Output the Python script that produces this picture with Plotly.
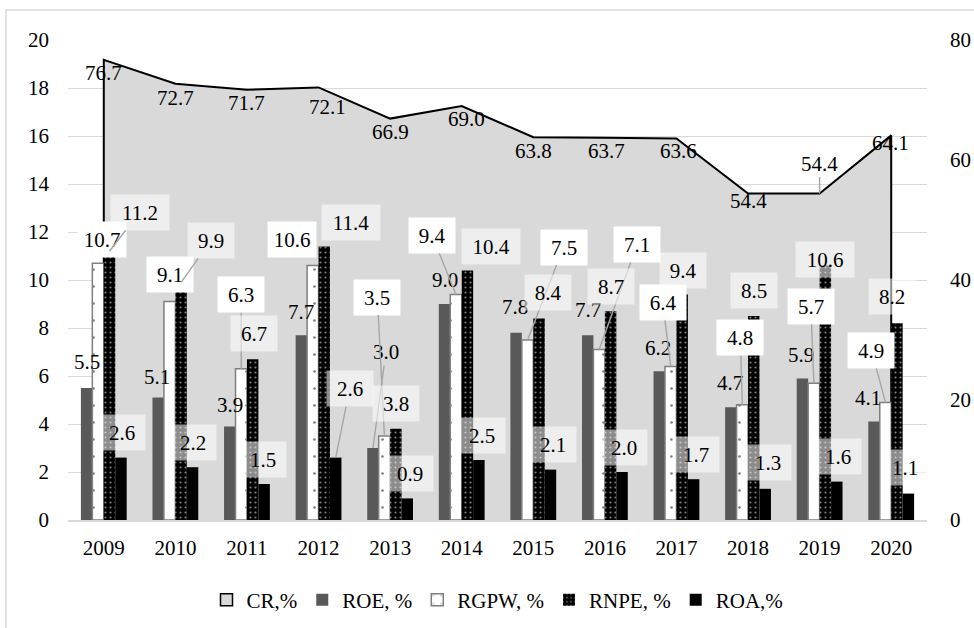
import plotly.graph_objects as go

# ---------------- data ----------------
years = ['2009', '2010', '2011', '2012', '2013', '2014', '2015', '2016', '2017', '2018', '2019', '2020']
cr = [76.7, 72.7, 71.7, 72.1, 66.9, 69.0, 63.8, 63.7, 63.6, 54.4, 54.4, 64.1]
roe = [5.5, 5.1, 3.9, 7.7, 3.0, 9.0, 7.8, 7.7, 6.2, 4.7, 5.9, 4.1]
rgpw = [10.7, 9.1, 6.3, 10.6, 3.5, 9.4, 7.5, 7.1, 6.4, 4.8, 5.7, 4.9]
rnpe = [11.2, 9.9, 6.7, 11.4, 3.8, 10.4, 8.4, 8.7, 9.4, 8.5, 10.6, 8.2]
roa = [2.6, 2.2, 1.5, 2.6, 0.9, 2.5, 2.1, 2.0, 1.7, 1.3, 1.6, 1.1]

left_ticks = [0, 2, 4, 6, 8, 10, 12, 14, 16, 18, 20]
right_ticks = [0, 20, 40, 60, 80]

# ---------------- label placement (pixel offsets from each point) ----------------
cr_dx = [0, 0, 0, 9, 0, 5, 0, 2, 2, 0, 0, -1]
cr_dy = [13, 14, 13, 20, 13, 13, 14, 13, 13, 7, -30, 8]
cr_lead = [0, 0, 0, 0, 0, 0, 0, 0, 0, 0, 1, 0]

roe_dx = [0, -1, 0, 0, 13, 0, -1, 0, -1, -1, -1, -6]
roe_dy = [-26, -21, -21, -23, -96, -24, -26, -25, -23, -24, -23, -24]
roe_lead = [0, 0, 0, 0, 1, 0, 0, 0, 0, 0, 0, 0]

rgpw_dx = [4, 0, 0, -21, -7, -24, 36, 38, -8, -2, -3, -14]
rgpw_dy = [-24, -27, -74, -26, -139, -59, -93, -105, -64, -67, -77, -52]
rgpw_lead = [0, 0, 1, 0, 1, 1, 1, 1, 1, 1, 1, 1]

rnpe_dx = [30, 30, 1, 27, 0, 24, 9, 0, 1, 0, 0, -5]
rnpe_dy = [-39, -42, -26, -24, -25, -24, -26, -25, -24, -26, -6, -27]
rnpe_lead = [1, 1, 0, 0, 0, 0, 0, 0, 0, 0, 0, 0]

roa_dx = [1, 0, -1, 14, 3, 3, 3, 2, 2, 3, 1, -3]
roa_dy = [-25, -25, -25, -69, -25, -25, -25, -25, -25, -26, -25, -26]
roa_lead = [0, 0, 0, 1, 0, 0, 0, 0, 0, 0, 0, 0]

# ---------------- styling ----------------
FONT = 'Liberation Serif, Times New Roman, serif'
FS = 21
GRID = '#d9d9d9'
LEADER = '#a6a6a6'
BARGAP = 0.36
NBARS = 4
bw = (1 - BARGAP) / NBARS
bar_off = [(-1.5 + k) * bw for k in range(NBARS)]

xs = list(range(len(years)))

fig = go.Figure()

# CR area on the right axis (main y, so it is drawn beneath the bars)
fig.add_trace(go.Scatter(
    x=[xs[0]] + xs + [xs[-1]],
    y=[0] + cr + [0],
    mode='lines', fill='tozeroy', fillcolor='#d9d9d9',
    line=dict(color='black', width=2),
    name='CR,%', yaxis='y', hoverinfo='skip', showlegend=False))
# legend swatch for the CR area
fig.add_trace(go.Scatter(
    x=[None], y=[None], mode='markers', name='CR,%', yaxis='y',
    marker=dict(symbol='square', size=12, color='#d9d9d9',
                line=dict(color='black', width=1.5))))

fig.add_trace(go.Bar(x=xs, y=roe, name='ROE, %', yaxis='y2',
                     marker=dict(color='#595959', line=dict(width=0))))
fig.add_trace(go.Bar(x=xs, y=rgpw, name='RGPW, %', yaxis='y2',
                     marker=dict(color='white', line=dict(color='#7f7f7f', width=1.5),
                                 pattern=dict(shape='.', fgcolor='black', bgcolor='white',
                                              size=17, solidity=0.02))))
fig.add_trace(go.Bar(x=xs, y=rnpe, name='RNPE, %', yaxis='y2',
                     marker=dict(color='black', line=dict(width=0),
                                 pattern=dict(shape='.', fgcolor='white', bgcolor='black',
                                              size=5, solidity=0.15))))
fig.add_trace(go.Bar(x=xs, y=roa, name='ROA,%', yaxis='y2',
                     marker=dict(color='black', line=dict(width=0))))

annotations = []


def add_labels(vals, xoff, yref, dxs, dys, leads, bg, widths):
    for i, v in enumerate(vals):
        txt = f'{v:.1f}'
        a = dict(x=xs[i] + xoff, y=v, xref='x', yref=yref, text=txt,
                 showarrow=True, ax=dxs[i], ay=dys[i], axref='pixel', ayref='pixel',
                 arrowhead=0, arrowwidth=1.4, standoff=0,
                 arrowcolor=LEADER if leads[i] else 'rgba(0,0,0,0)',
                 font=dict(family=FONT, size=FS, color='black'))
        if bg is not None:
            a.update(bgcolor=bg, borderpad=0,
                     width=widths[0] if len(txt) <= 3 else widths[1], height=35)
        annotations.append(a)


add_labels(cr, 0, 'y', cr_dx, cr_dy, cr_lead, None, None)
add_labels(roe, bar_off[0], 'y2', roe_dx, roe_dy, roe_lead, None, None)
add_labels(rgpw, bar_off[1], 'y2', rgpw_dx, rgpw_dy, rgpw_lead, 'white', (46, 48))
add_labels(rnpe, bar_off[2], 'y2', rnpe_dx, rnpe_dy, rnpe_lead, 'rgba(255,255,255,0.55)', (46, 58))
add_labels(roa, bar_off[3], 'y2', roa_dx, roa_dy, roa_lead, 'rgba(255,255,255,0.55)', (46, 58))

fig.update_layout(
    width=974, height=628,
    margin=dict(l=68, r=47, t=40, b=108, autoexpand=False),
    paper_bgcolor='white', plot_bgcolor='white',
    font=dict(family=FONT, size=FS, color='black'),
    barmode='group', bargap=BARGAP, bargroupgap=0,
    showlegend=True,
    legend=dict(orientation='h', x=0.5, xanchor='center',
                y=0.0446, yref='container', yanchor='middle',
                font=dict(family=FONT, size=FS, color='black'),
                traceorder='normal', itemwidth=30, bgcolor='rgba(0,0,0,0)'),
    xaxis=dict(range=[-0.5, len(years) - 0.5], tickvals=xs, ticktext=years,
               showgrid=False, zeroline=False, showline=True, linecolor=GRID, linewidth=1.5,
               ticks='', ticklabelstandoff=8, tickfont=dict(family=FONT, size=FS),
               automargin=False),
    yaxis=dict(range=[0, 80], tickvals=right_ticks, side='right', showgrid=False,
               zeroline=False, showline=False, ticks='', ticklabelstandoff=22,
               tickfont=dict(family=FONT, size=FS), automargin=False),
    yaxis2=dict(range=[0, 20], tickvals=left_ticks, side='left', overlaying='y',
                showgrid=True, gridcolor=GRID, gridwidth=1.3, zeroline=False,
                showline=False, ticks='', ticklabelstandoff=18,
                tickfont=dict(family=FONT, size=FS), automargin=False),
    annotations=annotations,
    shapes=[dict(type='rect', xref='paper', yref='paper',
                 x0=-0.0722, x1=1.2, y0=-0.4, y1=1.0625,
                 line=dict(color='#d9d9d9', width=1.5), fillcolor='rgba(0,0,0,0)',
                 layer='below')],
)

fig.write_html('out.html', config={'displayModeBar': False},
               post_script="document.body.style.margin='0px';")
